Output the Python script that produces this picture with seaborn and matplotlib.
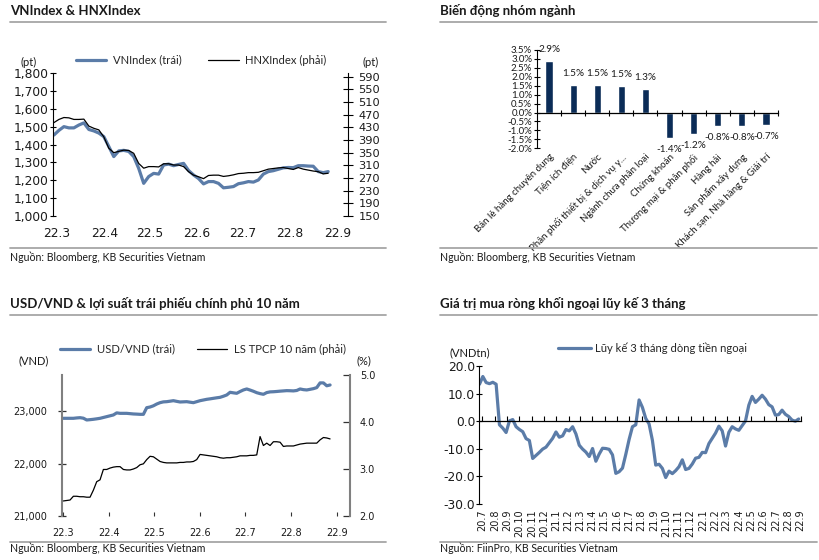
import numpy as np
import pandas as pd
import matplotlib
matplotlib.use("Agg")
import matplotlib.pyplot as plt
import matplotlib.dates as mdates
import seaborn as sns
from matplotlib.lines import Line2D

# ---------------- data ----------------
# Panel 1: VNIndex (left) & HNXIndex (right)
vnindex = [1454, 1480, 1501, 1494, 1494, 1510, 1522, 1485, 1477, 1465,
           1445, 1390, 1333, 1365, 1368, 1362, 1333, 1267, 1183, 1221,
           1239, 1235, 1286, 1291, 1282, 1289, 1295, 1255, 1230, 1210,
           1180, 1193, 1193, 1183, 1158, 1161, 1165, 1181, 1186, 1193,
           1190, 1202, 1235, 1249, 1254, 1262, 1270, 1272, 1271, 1282,
           1282, 1280, 1279, 1249, 1243, 1249]
hnxindex = [445, 455, 461, 460, 455, 455, 456, 434, 427, 422,
            400, 364, 350, 354, 358, 357, 348, 316, 301, 306,
            306, 305, 315, 315, 311, 311, 306, 290, 279, 274,
            268, 278, 279, 279, 275, 277, 280, 284, 285, 287,
            287, 288, 293, 298, 300, 302, 303, 300, 297, 303,
            298, 295, 292, 290, 283, 285]
vn_ticks = [1000, 1100, 1200, 1300, 1400, 1500, 1600, 1700, 1800]
hnx_ticks = [150, 190, 230, 270, 310, 350, 390, 430, 470, 510, 550, 590]
month_labels_22 = ["22.3", "22.4", "22.5", "22.6", "22.7", "22.8", "22.9"]

# Panel 2: sector performance
sectors = ["Bán lẻ hàng chuyên dụng", "Tiện ích điện", "Nước",
           "Phân phối thiết bị & dịch vụ y...", "Ngành chưa phân loại",
           "Chứng khoán", "Thương mại & phân phối", "Hàng hải",
           "Sản phẩm xây dựng", "Khách sạn, Nhà hàng & Giải trí"]
sector_change = [2.89, 1.53, 1.53, 1.47, 1.30, -1.42, -1.21, -0.78, -0.76, -0.71]
pct_ticks = [-2.0, -1.5, -1.0, -0.5, 0.0, 0.5, 1.0, 1.5, 2.0, 2.5, 3.0, 3.5]

# Panel 3: USD/VND (left) & 10Y government bond yield (right)
usdvnd = [22868, 22868, 22868, 22868, 22875, 22880, 22870, 22836, 22842, 22849,
          22858, 22868, 22884, 22900, 22916, 22932, 22972, 22963, 22963, 22963,
          22957, 22951, 22948, 22944, 22944, 23071, 23084, 23107, 23141, 23167,
          23182, 23186, 23195, 23205, 23192, 23180, 23183, 23186, 23176, 23167,
          23186, 23205, 23218, 23231, 23240, 23250, 23260, 23269, 23290, 23314,
          23365, 23355, 23346, 23380, 23410, 23429, 23408, 23385, 23358, 23340,
          23327, 23360, 23373, 23376, 23381, 23387, 23392, 23397, 23395, 23392,
          23400, 23429, 23416, 23410, 23422, 23435, 23455, 23545, 23545, 23490,
          23505]
gov10y = [2.32, 2.33, 2.34, 2.42, 2.42, 2.41, 2.41, 2.40, 2.40, 2.55,
          2.73, 2.77, 2.99, 2.99, 3.02, 3.04, 3.05, 3.05, 2.99, 2.98,
          2.98, 3.00, 3.03, 3.09, 3.11, 3.20, 3.27, 3.26, 3.21, 3.16,
          3.14, 3.13, 3.13, 3.13, 3.13, 3.14, 3.14, 3.15, 3.15, 3.16,
          3.20, 3.31, 3.30, 3.29, 3.28, 3.27, 3.26, 3.24, 3.23, 3.24,
          3.24, 3.25, 3.26, 3.28, 3.28, 3.28, 3.29, 3.29, 3.30, 3.69,
          3.50, 3.55, 3.50, 3.58, 3.58, 3.57, 3.48, 3.49, 3.49, 3.49,
          3.51, 3.53, 3.54, 3.55, 3.55, 3.55, 3.55, 3.62, 3.67, 3.66,
          3.64]
usd_ticks = [21000, 22000, 23000]
yield_ticks = [2.0, 3.0, 4.0, 5.0]

# Panel 4: 3-month cumulative foreign net buying (VND tn)
foreign_flow = [13.4, 16.2, 14.0, 13.6, 14.1, 13.4, -1.3, -2.5, -4.1, 0.1,
                0.6, -2.0, -3.0, -3.8, -6.3, -7.0, -13.5, -12.4, -11.3, -10.1,
                -9.4, -7.8, -6.2, -3.9, -5.8, -5.3, -3.0, -3.5, -2.0, -4.6,
                -8.7, -10.1, -11.2, -12.8, -9.9, -14.5, -11.9, -9.8, -9.9, -10.2,
                -12.2, -18.9, -18.3, -17.0, -12.0, -6.6, -2.0, -1.3, 7.7,
                5.0, 1.0, -1.0, -6.9, -15.9, -15.6, -17.1, -20.4, -18.1, -19.0,
                -17.9, -16.5, -14.0, -17.5, -17.1, -15.5, -13.4, -13.1, -11.3, -11.4,
                -8.1, -6.2, -4.3, -1.8, -3.5, -9.0, -4.0, -2.0, -2.8, -3.3,
                -1.6, 0.1, 5.8, 9.0, 6.8, 8.0, 9.4, 8.0, 6.0, 5.2,
                2.2, 2.4, 4.0, 2.5, 1.7, 0.4, 0.0, 0.8]
flow_ticks = [-30, -20, -10, 0, 10, 20]
flow_month_labels = ["20.7", "20.8", "20.9", "20.10", "20.11", "20.12",
                     "21.1", "21.2", "21.3", "21.4", "21.5", "21.6", "21.7",
                     "21.8", "21.9", "21.10", "21.11", "21.12",
                     "22.1", "22.2", "22.3", "22.4", "22.5", "22.6", "22.7",
                     "22.8", "22.9"]

# ---------------- style ----------------
sns.set_theme(style="white")
plt.rcParams["font.family"] = ["Lato", "Noto Sans", "DejaVu Sans"]
plt.rcParams["axes.unicode_minus"] = False

W, H = 820, 560
fig = plt.figure(figsize=(W / 100, H / 100), dpi=100)
fig.patch.set_facecolor("white")

TXT = "#1a1a1a"
BLUE = "#5B7CA8"
NAVY = "#0B2C57"
SEP = "#A6A6A6"
NUMF = "DejaVu Sans"
FS_TITLE = 9.5
FS_SRC = 7.6
FS_LEG = 8.1


def fx(x):
    return x / W


def fy(y):
    return 1 - y / H


def frect(l, t, r, b):
    return [l / W, 1 - b / H, (r - l) / W, (b - t) / H]


def hline(x0, x1, y):
    fig.add_artist(Line2D([fx(x0), fx(x1)], [fy(y), fy(y)],
                          transform=fig.transFigure, color=SEP, lw=1.3))


def frame(x0, x1, title, title_y, line_top, line_bot, src, src_y):
    fig.text(fx(x0), fy(title_y), title, fontsize=FS_TITLE, fontweight="bold",
             ha="left", va="center", color=TXT)
    hline(x0, x1, line_top)
    hline(x0, x1, line_bot)
    fig.text(fx(x0), fy(src_y), src, fontsize=FS_SRC, ha="left", va="center", color=TXT)


def ftext(x, y, s, size=8):
    fig.text(fx(x), fy(y), s, fontsize=size, ha="center", va="center", color=TXT)


# ================= Panel 1 =================
frame(10, 386, "VNIndex & HNXIndex", 10.7, 22, 248.3,
      "Nguồn: Bloomberg, KB Securities Vietnam", 257)

df1 = pd.DataFrame({"date": pd.date_range("2022-02-27", "2022-08-26", periods=len(vnindex)),
                    "VNIndex": vnindex, "HNXIndex": hnxindex})
ax1 = fig.add_axes(frect(53.3, 73.3, 348, 216))
ax1r = ax1.twinx()
sns.lineplot(data=df1, x="date", y="VNIndex", ax=ax1, color=BLUE, lw=2.3)
sns.lineplot(data=df1, x="date", y="HNXIndex", ax=ax1r, color="black", lw=0.9)
ax1.set_xlim(pd.Timestamp("2022-02-26 14:00"), pd.Timestamp("2022-09-08"))
ax1.set_ylim(1000, 1800)
ax1r.set_ylim(150, 600.7)
ax1.set_yticks(vn_ticks, [f"{v:,}" for v in vn_ticks], fontfamily=NUMF, fontsize=8.8, color=TXT)
ax1r.set_yticks(hnx_ticks, [str(v) for v in hnx_ticks], fontfamily=NUMF, fontsize=8.2, color=TXT)
ax1.set_xticks(pd.date_range("2022-03-01", periods=len(month_labels_22), freq="MS"),
               month_labels_22, fontfamily=NUMF, fontsize=8.8, color=TXT)
for a in (ax1, ax1r):
    a.set_xlabel("")
    a.set_ylabel("")
    a.set_facecolor("none")
    for s in ("top", "bottom"):
        a.spines[s].set_visible(False)
ax1.spines["right"].set_visible(False)
ax1r.spines["left"].set_visible(False)
ax1.spines["left"].set_color("black")
ax1.spines["left"].set_linewidth(0.8)
ax1r.spines["right"].set_color("black")
ax1r.spines["right"].set_linewidth(0.8)
ax1.tick_params(axis="y", left=True, direction="inout", length=5, width=0.8,
                color="black", pad=1)
ax1r.tick_params(axis="y", right=True, direction="inout", length=7, width=0.8,
                 color="black", pad=4)
ax1.tick_params(axis="x", bottom=False, length=0, pad=8)
ftext(28.5, 62, "(pt)")
ftext(371, 62, "(pt)")
fig.legend([Line2D([], [], color=BLUE, lw=2.3), Line2D([], [], color="black", lw=0.9)],
           ["VNIndex (trái)", "HNXIndex (phải)"], loc="center left",
           bbox_to_anchor=(fx(76), fy(60)), bbox_transform=fig.transFigure, ncol=2,
           frameon=False, fontsize=FS_LEG, handlelength=2.7, handletextpad=0.55,
           columnspacing=2.4, borderpad=0, borderaxespad=0)

# ================= Panel 2 =================
frame(440, 817, "Biến động nhóm ngành", 10.7, 22, 248.3,
      "Nguồn: Bloomberg, KB Securities Vietnam", 257)
ax2 = fig.add_axes(frect(537, 50, 778, 148.3))
sns.barplot(x=sectors, y=sector_change, color=NAVY, saturation=1, width=0.3, ax=ax2)
ax2.set_xlim(-0.5, 9.5)
ax2.set_ylim(-2.0, 3.5)
ax2.set_yticks(pct_ticks, [f"{v:.1f}%" for v in pct_ticks])
ax2.set_xticks(range(len(sectors)), [""] * len(sectors))
ax2.set_xticks(np.arange(0.5, len(sectors), 1.0), minor=True)
ax2.spines["bottom"].set_position(("data", 0))
ax2.spines["bottom"].set_color("black")
ax2.spines["bottom"].set_linewidth(0.9)
ax2.spines["left"].set_color("black")
ax2.spines["left"].set_linewidth(0.8)
for s in ("top", "right"):
    ax2.spines[s].set_visible(False)
ax2.tick_params(axis="x", which="major", length=0)
ax2.tick_params(axis="x", which="minor", bottom=True, direction="inout", length=5,
                width=0.8, color="black")
ax2.tick_params(axis="y", left=True, direction="inout", length=5, width=0.8,
                color="black", labelsize=7, labelcolor=TXT, pad=1)
ax2.bar_label(ax2.containers[0], labels=[f"{v:.1f}%" for v in sector_change],
              padding=5, fontsize=7.2, color=TXT)
sec2 = ax2.secondary_xaxis(0.0)
sec2.set_xticks(range(len(sectors)), sectors, rotation=45, ha="right",
                rotation_mode="anchor", fontsize=7, color=TXT)
sec2.tick_params(length=0, pad=3)
sec2.spines["bottom"].set_visible(False)

# ================= Panel 3 =================
frame(10, 386, "USD/VND & lợi suất trái phiếu chính phủ 10 năm", 303.3, 315, 542.3,
      "Nguồn: Bloomberg, KB Securities Vietnam", 548.5)
df3 = pd.DataFrame({"date": pd.date_range("2022-03-01 05:00", "2022-08-27 07:00", periods=len(usdvnd)),
                    "USD/VND": usdvnd, "LS": gov10y})
ax3 = fig.add_axes(frect(61.7, 375, 350, 516))
ax3r = ax3.twinx()
sns.lineplot(data=df3, x="date", y="USD/VND", ax=ax3, color=BLUE, lw=2.3)
sns.lineplot(data=df3, x="date", y="LS", ax=ax3r, color="black", lw=0.9)
ax3.set_xlim(pd.Timestamp("2022-02-28 02:00"), pd.Timestamp("2022-09-09 16:00"))
ax3.set_ylim(21000, 23696)
ax3r.set_ylim(2.0, 5.0)
ax3.set_yticks(usd_ticks, [f"{v:,}" for v in usd_ticks], fontfamily=NUMF, fontsize=7, color=TXT)
ax3r.set_yticks(yield_ticks, [f"{v:.1f}" for v in yield_ticks], fontfamily=NUMF, fontsize=7, color=TXT)
ax3.set_xticks(pd.date_range("2022-03-01", periods=len(month_labels_22), freq="MS"),
               month_labels_22, fontfamily=NUMF, fontsize=7, color=TXT)
for a in (ax3, ax3r):
    a.set_xlabel("")
    a.set_ylabel("")
    a.set_facecolor("none")
    for s in ("top", "bottom"):
        a.spines[s].set_visible(False)
ax3.spines["right"].set_visible(False)
ax3r.spines["left"].set_visible(False)
ax3.spines["left"].set_color("#808080")
ax3.spines["left"].set_linewidth(1.5)
ax3r.spines["right"].set_color("#808080")
ax3r.spines["right"].set_linewidth(1.5)
ax3.tick_params(axis="y", left=True, direction="inout", length=6, width=0.9,
                color="#333333", pad=7.5)
ax3r.tick_params(axis="y", right=True, direction="in", length=5, width=0.9,
                 color="#333333", pad=7)
ax3.tick_params(axis="x", bottom=True, direction="in", length=3, width=0.8,
                color="#333333", pad=9)
ftext(33.5, 361, "(VND)")
ftext(364, 361, "(%)")
fig.legend([Line2D([], [], color=BLUE, lw=2.3), Line2D([], [], color="black", lw=0.9)],
           ["USD/VND (trái)", "LS TPCP 10 năm (phải)"], loc="center left",
           bbox_to_anchor=(fx(60), fy(349)), bbox_transform=fig.transFigure, ncol=2,
           frameon=False, fontsize=FS_LEG, handlelength=2.7, handletextpad=0.55,
           columnspacing=2.0, borderpad=0, borderaxespad=0)

# ================= Panel 4 =================
frame(440, 817, "Giá trị mua ròng khối ngoại lũy kế 3 tháng", 304, 315, 542.3,
      "Nguồn: FiinPro, KB Securities Vietnam", 548.5)
df4 = pd.DataFrame({"date": pd.date_range("2020-06-24", "2022-08-27", periods=len(foreign_flow)),
                    "flow": foreign_flow})
ax4 = fig.add_axes(frect(479.3, 366, 800.7, 504))
sns.lineplot(data=df4, x="date", y="flow", ax=ax4, color=BLUE, lw=2.3)
ax4.set_xlim(pd.Timestamp("2020-06-23 12:00"), pd.Timestamp("2022-09-01"))
ax4.set_ylim(-30, 20)
ax4.set_yticks(flow_ticks, [f"{v:.1f}" for v in flow_ticks], fontfamily=NUMF, fontsize=8.8, color=TXT)
month_pos4 = mdates.date2num(pd.date_range("2020-07-01", periods=len(flow_month_labels), freq="MS"))
ax4.set_xticks(month_pos4, [""] * len(flow_month_labels))
ax4.set_xlabel("")
ax4.set_ylabel("")
ax4.spines["bottom"].set_position(("data", 0))
ax4.spines["bottom"].set_color("black")
ax4.spines["bottom"].set_linewidth(0.9)
ax4.spines["left"].set_color("black")
ax4.spines["left"].set_linewidth(0.8)
for s in ("top", "right"):
    ax4.spines[s].set_visible(False)
ax4.tick_params(axis="x", bottom=True, direction="in", length=3.5, width=0.8, color="black")
ax4.tick_params(axis="y", left=True, direction="inout", length=5, width=0.8,
                color="black", pad=0.5)
sec4 = ax4.secondary_xaxis(0.0)
sec4.set_xticks(month_pos4, flow_month_labels, rotation=90, fontfamily=NUMF,
                fontsize=7, color=TXT)
sec4.tick_params(length=0, pad=4)
sec4.spines["bottom"].set_visible(False)
ftext(470, 353, "(VNDtn)")
fig.legend([Line2D([], [], color=BLUE, lw=2.3)], ["Lũy kế 3 tháng dòng tiền ngoại"],
           loc="center left", bbox_to_anchor=(fx(558), fy(348)),
           bbox_transform=fig.transFigure, frameon=False, fontsize=FS_LEG,
           handlelength=2.9, handletextpad=0.4, borderpad=0, borderaxespad=0)

fig.savefig("out.png", dpi=100, facecolor="white")
